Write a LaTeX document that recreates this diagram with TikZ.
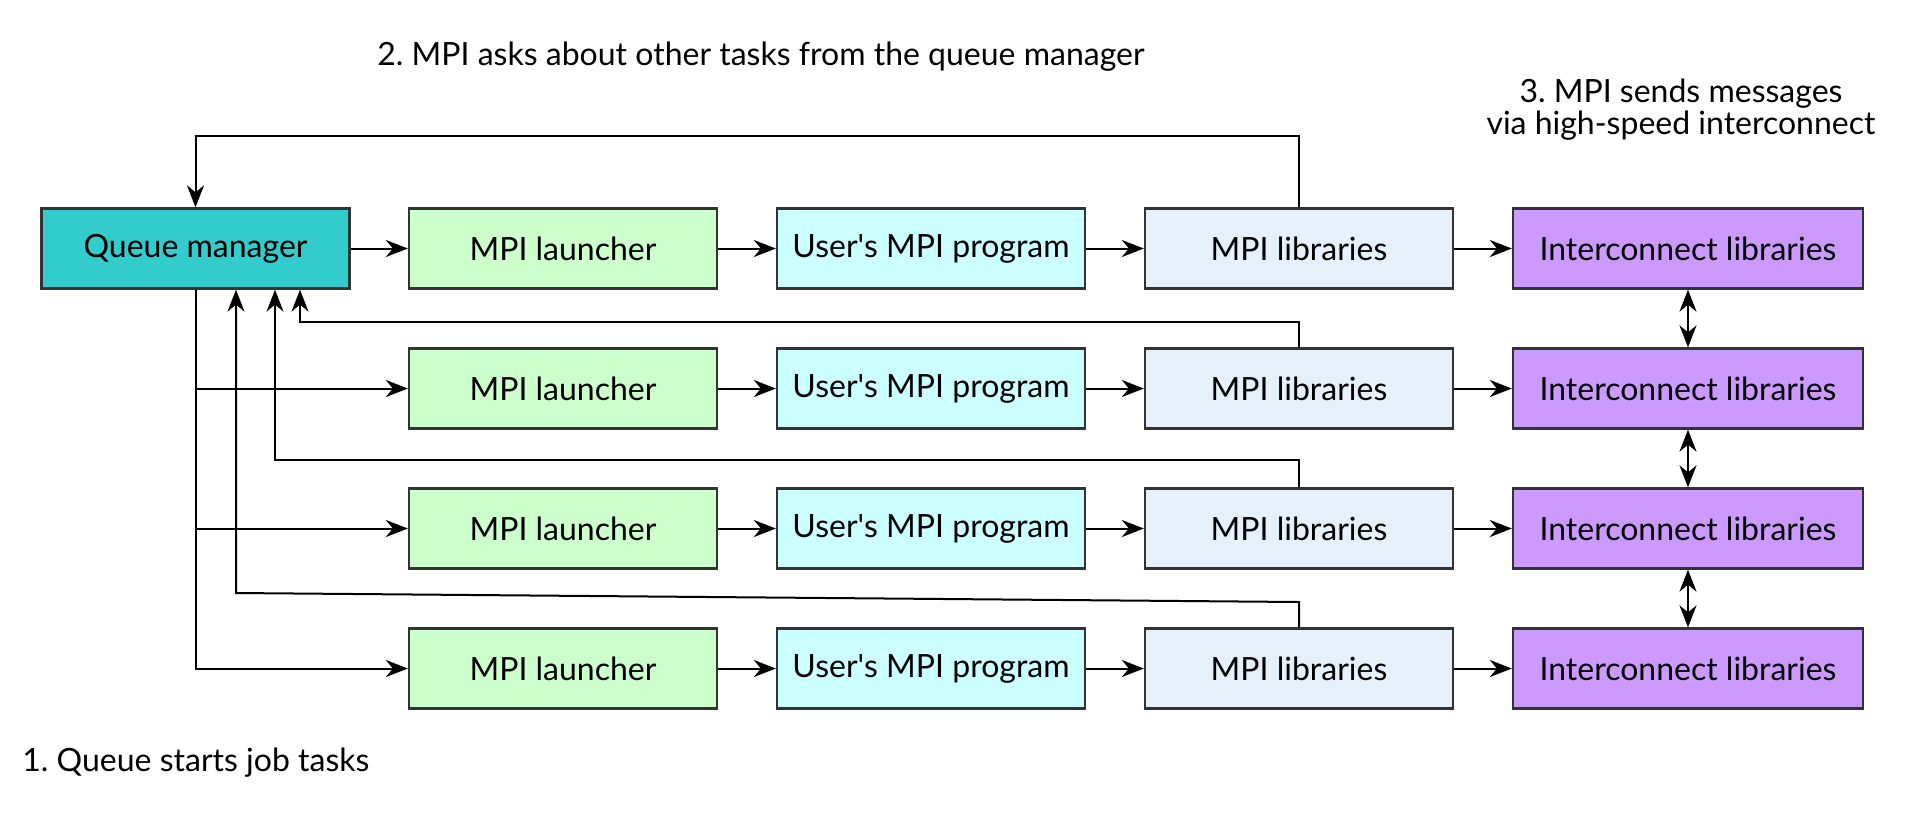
\documentclass[tikz,border=0pt]{standalone}
\usepackage{fontspec}
\setmainfont{Lato}
\frenchspacing
\usetikzlibrary{arrows.meta}
\definecolor{qmcol}{HTML}{33CCCC}
\definecolor{lcol}{HTML}{CCFFCC}
\definecolor{ucol}{HTML}{CCFFFF}
\definecolor{mcol}{HTML}{E6F0FA}
\definecolor{icol}{HTML}{CC99FF}
\definecolor{bordercol}{HTML}{333333}
\tikzset{
  box/.style={draw=bordercol, line width=1.15pt, minimum width=154pt, minimum height=40pt, inner sep=0pt, font=\fontsize{16pt}{19pt}\selectfont},
  ibox/.style={box, minimum width=175pt, fill=icol},
  arr/.style={line width=1pt, -{Stealth[length=11pt, width=8.5pt, inset=3.5pt]}},
  darr/.style={line width=1pt, {Stealth[length=11pt, width=8.5pt, inset=3.5pt]}-{Stealth[length=11pt, width=8.5pt, inset=3.5pt]}},
  lbl/.style={font=\fontsize{16pt}{16pt}\selectfont, inner sep=0pt},
}
\begin{document}
\begin{tikzpicture}[x=0.5pt, y=-0.5pt]
\useasboundingbox (0,0) rectangle (1924,816);
\node[box, fill=qmcol] (qm) at (195.5,248.5) {Queue manager};
\foreach \r/\y in {1/248.5, 2/388.5, 3/528.5, 4/668.5} {
  \node[box, fill=lcol] (launch\r) at (563,\y) {MPI launcher};
  \node[box, fill=ucol] (user\r) at (931,\y) {User\textquotesingle s MPI program};
  \node[box, fill=mcol] (lib\r) at (1299,\y) {MPI libraries};
  \node[ibox] (inter\r) at (1688,\y) {Interconnect libraries};
  \draw[arr] (launch\r.east) -- (user\r.west);
  \draw[arr] (user\r.east) -- (lib\r.west);
  \draw[arr] (lib\r.east) -- (inter\r.west);
}
\draw[arr] (qm.east) -- (launch1.west);
\draw[arr] (qm.south) |- (launch2.west);
\draw[arr] (qm.south) |- (launch3.west);
\draw[arr] (qm.south) |- (launch4.west);
\draw[darr] (inter1.south) -- (inter2.north);
\draw[darr] (inter2.south) -- (inter3.north);
\draw[darr] (inter3.south) -- (inter4.north);
% feedback
\coordinate (c1) at (0,136);
\draw[arr] (lib1.north) |- (c1 -| qm.north) -- (qm.north);
\coordinate (c2) at (300,321.5);
\draw[arr] (lib2.north) |- (c2) -- (c2 |- qm.south);
\coordinate (c3) at (275,460);
\draw[arr] (lib3.north) |- (c3) -- (c3 |- qm.south);
\coordinate (c4) at (236,593);
\coordinate (c4r) at (1299,602);
\draw[arr] (lib4.north) -- (c4r) -- (c4) -- (c4 |- qm.south);
% labels
\node[lbl] (t2) at (761,57) {2. MPI asks about other tasks from the queue manager};
\node[lbl, align=center] (t3) at (1681,110) {3. MPI sends messages\\via high-speed interconnect};
\node[lbl, anchor=west] (t1) at (22,763) {1. Queue starts job tasks};
\end{tikzpicture}
\end{document}
